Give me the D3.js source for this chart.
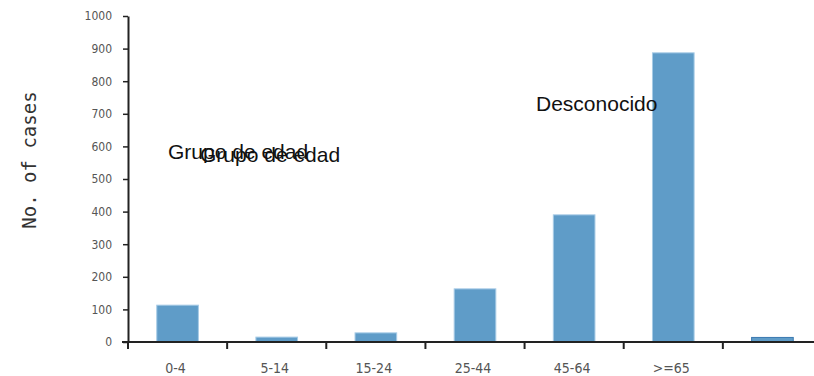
<!DOCTYPE html>
<html>
<head>
<meta charset="utf-8">
<script src="https://cdn.jsdelivr.net/npm/d3@7/dist/d3.min.js"></script>
<style>
  html, body { margin: 0; padding: 0; background: #fff; }
  svg { display: block; }
</style>
</head>
<body>
<svg id="chart" width="814" height="376"></svg>
<script>
const categories = ["0-4", "5-14", "15-24", "25-44", "45-64", ">=65", ""];
const cases = [113, 15, 28, 163, 390, 887, 14];
const yTicks = [0, 100, 200, 300, 400, 500, 600, 700, 800, 900, 1000];
const yTitle = "No. of cases";
const groupLabel = "Grupo de edad";
const unknownLabel = "Desconocido";

const svg = d3.select("#chart");
const x0 = 128, xEnd = 822, y0 = 342, yTop = 16;

const x = d3.scaleBand().domain(categories.map((c, i) => i)).range([x0, xEnd]).paddingInner(0.58).paddingOuter(0.29);
const xb = d3.scaleBand().domain(categories.map((c, i) => i)).range([x0, xEnd]);
const y = d3.scaleLinear().domain([0, 1000]).range([y0, yTop]);

// bars
svg.append("g").selectAll("rect").data(cases).join("rect")
  .attr("x", (d, i) => x(i))
  .attr("width", x.bandwidth())
  .attr("y", d => y(d))
  .attr("height", d => y0 - y(d))
  .attr("fill", "#5f9cc8")
  .attr("stroke", (d, i) => i === cases.length - 1 ? "#3a78b0" : "#a7cbe6")
  .attr("stroke-width", 1);

// y axis
const yAxis = d3.axisLeft(y).tickValues(yTicks).tickFormat(d3.format("d"))
  .tickSize(5).tickPadding(11).tickSizeOuter(0);
const gy = svg.append("g").attr("transform", `translate(${x0},0)`).call(yAxis);
gy.select(".domain").attr("stroke", "#222").attr("stroke-width", 2);
gy.selectAll(".tick line").attr("stroke", "#222").attr("stroke-width", 1.5);
gy.selectAll(".tick text")
  .attr("font-family", "'DejaVu Sans Condensed', 'DejaVu Sans', sans-serif")
  .attr("font-size", 12).attr("fill", "#555");

// x axis
svg.append("line").attr("x1", x0 - 6).attr("x2", 814).attr("y1", y0).attr("y2", y0)
  .attr("stroke", "#222").attr("stroke-width", 2);
const gx = svg.append("g");
gx.selectAll("line").data(categories).join("line")
  .attr("x1", (d, i) => xb(i)).attr("x2", (d, i) => xb(i))
  .attr("y1", y0).attr("y2", y0 + 7)
  .attr("stroke", "#222").attr("stroke-width", 2);
gx.selectAll("text").data(categories).join("text")
  .attr("x", (d, i) => xb(i) + xb.bandwidth() / 2 - 2)
  .attr("y", 373)
  .attr("text-anchor", "middle")
  .attr("font-family", "'DejaVu Sans Condensed', 'DejaVu Sans', sans-serif")
  .attr("font-size", 14).attr("fill", "#555")
  .text(d => d);

// y title
svg.append("text")
  .attr("transform", "translate(36,160) rotate(-90)")
  .attr("text-anchor", "middle")
  .attr("font-family", "'DejaVu Sans Mono', monospace")
  .attr("font-size", 19).attr("fill", "#333")
  .text(yTitle);

// annotations
const ann = svg.append("g").attr("font-family", "'Liberation Sans', Arial, sans-serif")
  .attr("font-size", 21).attr("fill", "#111");
ann.append("text").attr("x", 168).attr("y", 159).text(groupLabel);
ann.append("text").attr("x", 200).attr("y", 162).text(groupLabel);
ann.append("text").attr("x", 536).attr("y", 111).text(unknownLabel);
</script>
</body>
</html>
